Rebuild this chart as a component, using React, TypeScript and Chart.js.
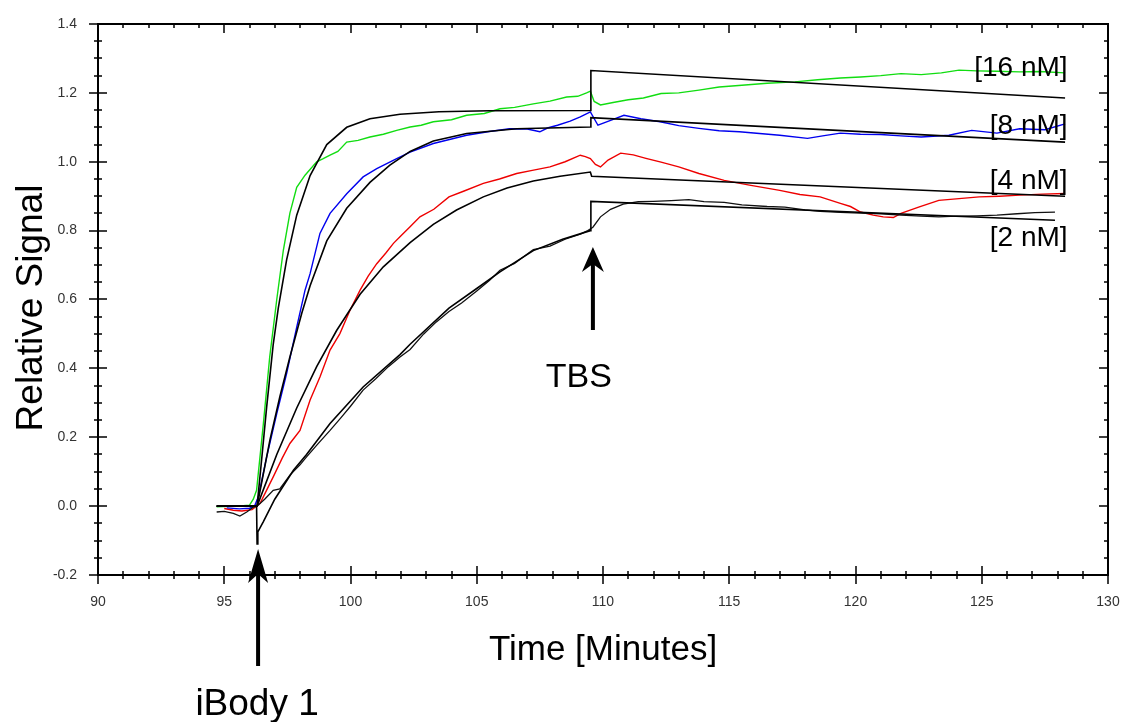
import React, { useEffect, useRef } from "react";
import { Chart, registerables } from "chart.js";

Chart.register(...registerables);

// ---- axis ticks ----
const xTickValues = [90, 95, 100, 105, 110, 115, 120, 125, 130];
const yTickValues = [-0.2, 0, 0.2, 0.4, 0.6, 0.8, 1.0, 1.2, 1.4];

// ---- 16 nM measured (green) ----
const time16 = [94.7, 95.5, 96.0, 96.15, 96.28, 96.55, 96.8, 97.08, 97.34, 97.6, 97.87, 98.2, 98.66, 98.9, 99.19, 99.5, 99.85, 100.3, 100.77, 101.3, 101.83, 102.36, 102.8, 103.28, 104.0, 104.6, 105.3, 105.92, 106.5, 107.24, 107.9, 108.56, 109.0, 109.35, 109.5, 109.65, 109.9, 110.4, 111.0, 111.6, 112.3, 113.0, 113.8, 114.6, 115.5, 116.5, 117.6, 118.5, 119.4, 120.2, 121.0, 121.8, 122.6, 123.4, 124.1, 124.8, 125.6, 126.5, 127.3, 128.3];
const signal16 = [-0.002, 0.0, 0.003, 0.02, 0.046, 0.24, 0.433, 0.6, 0.743, 0.851, 0.926, 0.961, 1.0, 1.008, 1.019, 1.03, 1.057, 1.062, 1.072, 1.08, 1.091, 1.101, 1.106, 1.116, 1.122, 1.135, 1.14, 1.154, 1.158, 1.168, 1.176, 1.188, 1.19, 1.2, 1.205, 1.175, 1.165, 1.172, 1.18, 1.185, 1.198, 1.2, 1.208, 1.217, 1.222, 1.228, 1.232, 1.238, 1.243, 1.246, 1.25, 1.256, 1.253, 1.258, 1.266, 1.264, 1.263, 1.261, 1.262, 1.258];

// ---- 8 nM measured (blue) ----
const time8 = [95.1, 95.6, 96.0, 96.2, 96.35, 96.68, 97.08, 97.47, 97.87, 98.2, 98.4, 98.79, 99.19, 99.85, 100.5, 101.04, 101.83, 102.36, 103.28, 104.0, 104.6, 105.5, 106.3, 107.0, 107.5, 107.8, 108.2, 108.7, 109.1, 109.5, 109.8, 110.3, 110.83, 111.5, 112.26, 113.0, 113.8, 114.6, 115.4, 116.2, 117.0, 118.1, 118.7, 119.4, 120.2, 121.0, 121.8, 122.6, 123.7, 124.6, 125.6, 126.5, 127.5, 128.3];
const signal8 = [-0.005, -0.008, -0.006, 0.0, 0.027, 0.143, 0.269, 0.385, 0.52, 0.627, 0.675, 0.792, 0.85, 0.907, 0.956, 0.98, 1.009, 1.028, 1.053, 1.066, 1.077, 1.088, 1.096, 1.095, 1.087, 1.098, 1.106, 1.118, 1.13, 1.145, 1.106, 1.12, 1.135, 1.125, 1.116, 1.105, 1.097, 1.09, 1.087, 1.082, 1.077, 1.068, 1.075, 1.083, 1.08, 1.079, 1.075, 1.072, 1.077, 1.091, 1.083, 1.096, 1.093, 1.11];

// ---- 4 nM measured (red) ----
const time4 = [95.0, 95.36, 95.7, 96.1, 96.42, 96.94, 97.3, 97.6, 98.0, 98.4, 98.79, 99.19, 99.58, 99.98, 100.38, 100.7, 101.04, 101.4, 101.7, 101.96, 102.36, 102.75, 103.3, 103.9, 104.5, 105.26, 105.9, 106.58, 107.2, 107.9, 108.5, 109.1, 109.3, 109.5, 109.7, 109.9, 110.2, 110.7, 111.2, 111.7, 112.3, 113.0, 113.8, 114.8, 115.8, 117.0, 117.8, 118.6, 119.4, 119.8, 120.2, 120.7, 121.1, 121.5, 121.8, 122.5, 123.3, 124.1, 124.9, 125.7, 126.5, 127.4, 128.3];
const signal4 = [-0.007, -0.012, -0.014, -0.01, 0.008, 0.085, 0.14, 0.182, 0.22, 0.308, 0.375, 0.453, 0.501, 0.569, 0.627, 0.668, 0.704, 0.735, 0.763, 0.782, 0.811, 0.84, 0.862, 0.898, 0.915, 0.937, 0.95, 0.966, 0.975, 0.985, 1.0, 1.019, 1.015, 1.009, 0.992, 0.985, 1.005, 1.025, 1.02, 1.01, 0.999, 0.985, 0.966, 0.946, 0.932, 0.917, 0.905, 0.898, 0.879, 0.87, 0.854, 0.845, 0.84, 0.838, 0.85, 0.868, 0.888, 0.893, 0.898, 0.9, 0.903, 0.906, 0.908];

// ---- 2 nM measured (black) ----
const time2 = [94.7, 95.0, 95.36, 95.62, 95.89, 96.15, 96.3, 96.6, 96.94, 97.2, 97.6, 98.0, 98.26, 98.7, 99.19, 99.6, 100.0, 100.5, 101.0, 101.5, 101.96, 102.36, 102.9, 103.4, 103.9, 104.4, 105.0, 105.5, 105.92, 106.5, 107.24, 107.9, 108.5, 109.1, 109.4, 109.6, 109.9, 110.3, 110.8, 111.4, 112.0, 112.7, 113.4, 114.0, 114.8, 115.5, 116.5, 117.2, 118.0, 118.6, 119.4, 120.2, 121.0, 121.8, 122.6, 123.3, 124.0, 124.8, 125.6, 126.4, 127.1, 127.9];
const signal2 = [-0.017, -0.015, -0.021, -0.029, -0.017, -0.003, 0.0, 0.02, 0.046, 0.05, 0.09, 0.12, 0.143, 0.18, 0.22, 0.255, 0.29, 0.337, 0.37, 0.405, 0.433, 0.455, 0.5, 0.535, 0.565, 0.59, 0.625, 0.655, 0.685, 0.705, 0.745, 0.755, 0.775, 0.79, 0.8, 0.81, 0.84, 0.862, 0.877, 0.884, 0.885, 0.887, 0.89, 0.884, 0.882, 0.875, 0.87, 0.868, 0.86, 0.856, 0.853, 0.851, 0.849, 0.845, 0.842, 0.84, 0.842, 0.843, 0.845, 0.849, 0.852, 0.854];

// ---- fitted curves (black) ----
const fitTime16 = [94.7, 96.3, 96.5, 96.68, 96.94, 97.14, 97.47, 97.87, 98.4, 99.06, 99.85, 100.77, 101.96, 103.5, 105.5, 109.5, 109.52, 128.3];
const fitSignal16 = [0, 0, 0.15, 0.288, 0.47, 0.575, 0.715, 0.845, 0.96, 1.05, 1.1, 1.125, 1.138, 1.145, 1.148, 1.149, 1.265, 1.185];

const fitTime8 = [94.7, 96.3, 96.81, 97.2, 97.6, 98.07, 98.4, 99.06, 99.85, 100.77, 101.56, 102.36, 103.28, 104.6, 106.58, 109.5, 109.52, 128.3];
const fitSignal8 = [0, 0, 0.192, 0.317, 0.433, 0.56, 0.64, 0.77, 0.865, 0.94, 0.99, 1.03, 1.06, 1.082, 1.096, 1.101, 1.128, 1.057];

const fitTime4 = [94.7, 96.3, 97.08, 97.87, 98.66, 99.45, 100.38, 101.3, 102.36, 103.28, 104.2, 105.26, 106.2, 107.24, 108.3, 109.5, 109.55, 128.3];
const fitSignal4 = [0, 0, 0.15, 0.285, 0.405, 0.51, 0.615, 0.695, 0.765, 0.818, 0.86, 0.898, 0.924, 0.944, 0.958, 0.97, 0.958, 0.9];

const fitTime2 = [94.7, 96.28, 96.3, 96.33, 96.55, 97.0, 97.74, 98.26, 99.19, 100.5, 101.96, 102.36, 103.9, 105.0, 105.92, 107.24, 108.4, 109.5, 109.52, 127.9];
const fitSignal2 = [0, 0, -0.11, -0.075, -0.045, 0.02, 0.104, 0.15, 0.24, 0.346, 0.44, 0.47, 0.575, 0.632, 0.68, 0.742, 0.775, 0.8, 0.885, 0.83];

// ---- annotations ----
const concLabels = ["[16 nM]", "[8 nM]", "[4 nM]", "[2 nM]"];
const concLabelSignal = [1.271, 1.103, 0.943, 0.778];
const concLabelTime = 128.4;
const eventTimes = [96.34, 109.6];
const eventLabels = ["iBody 1", "TBS"];

const FONT = '"Liberation Sans", Arial, Helvetica, sans-serif';

function pts(t: number[], v: number[]) {
  return t.map((x, i) => ({ x, y: v[i] }));
}

const annotPlugin = {
  id: "annot",
  afterDraw(chart: any) {
    const { ctx, chartArea } = chart;
    const { left, right, top, bottom } = chartArea;
    const xs = chart.scales.x;
    const ys = chart.scales.y;
    ctx.save();
    // ticks
    ctx.strokeStyle = "#000";
    ctx.lineWidth = 1.5;
    ctx.beginPath();
    for (let v = 90; v <= 130; v++) {
      const px = Math.round(xs.getPixelForValue(v));
      const L = v % 5 === 0 ? 9 : 4;
      ctx.moveTo(px, bottom - L);
      ctx.lineTo(px, bottom + L);
      ctx.moveTo(px, top);
      ctx.lineTo(px, top + L);
    }
    for (let i = -4; i <= 28; i++) {
      const py = Math.round(ys.getPixelForValue(i * 0.05));
      const L = i % 4 === 0 ? 9 : 4;
      ctx.moveTo(left - L, py);
      ctx.lineTo(left + L, py);
      ctx.moveTo(right - L, py);
      ctx.lineTo(right, py);
    }
    ctx.stroke();
    ctx.lineWidth = 2;
    ctx.strokeRect(left, top, right - left, bottom - top);

    // concentration labels
    ctx.fillStyle = "#000";
    ctx.font = `28px ${FONT}`;
    ctx.textAlign = "right";
    ctx.textBaseline = "middle";
    concLabels.forEach((s, i) => {
      ctx.fillText(s, xs.getPixelForValue(concLabelTime), ys.getPixelForValue(concLabelSignal[i]));
    });

    // arrows
    const arrowGeo = [
      { tip: 549, base: 583, notch: 574, tail: 666, hw: 10, label: 715, size: 37 },
      { tip: 247, base: 272, notch: 264, tail: 330, hw: 11, label: 387, size: 34 },
    ];
    eventTimes.forEach((t, i) => {
      const g = arrowGeo[i];
      const px = xs.getPixelForValue(t);
      ctx.lineWidth = 4;
      ctx.beginPath();
      ctx.moveTo(px, g.notch);
      ctx.lineTo(px, g.tail);
      ctx.stroke();
      ctx.beginPath();
      ctx.moveTo(px, g.tip);
      ctx.lineTo(px - g.hw, g.base);
      ctx.lineTo(px, g.notch);
      ctx.lineTo(px + g.hw, g.base);
      ctx.closePath();
      ctx.fill();
      ctx.font = `${g.size}px ${FONT}`;
      ctx.textAlign = "center";
      ctx.textBaseline = "alphabetic";
      ctx.fillText(eventLabels[i], px - (i === 0 ? 1 : 14), g.label);
    });

    // axis titles
    ctx.font = `35px ${FONT}`;
    ctx.textAlign = "center";
    ctx.textBaseline = "alphabetic";
    ctx.fillText("Time [Minutes]", (left + right) / 2, 660);
    ctx.save();
    ctx.translate(42, 308);
    ctx.rotate(-Math.PI / 2);
    ctx.font = `37px ${FONT}`;
    ctx.fillText("Relative Signal", 0, 0);
    ctx.restore();
    ctx.restore();
  },
};

export default function App() {
  const ref = useRef<HTMLCanvasElement | null>(null);
  useEffect(() => {
    if (!ref.current) return;
    const line = (data: any, color: string, w: number) => ({
      data,
      borderColor: color,
      backgroundColor: color,
      borderWidth: w,
      pointRadius: 0,
      fill: false,
      tension: 0,
    });
    const chart = new Chart(ref.current, {
      type: "line",
      data: {
        datasets: [
          line(pts(fitTime16, fitSignal16), "#000", 1.6),
          line(pts(fitTime8, fitSignal8), "#000", 1.6),
          line(pts(fitTime4, fitSignal4), "#000", 1.6),
          line(pts(fitTime2, fitSignal2), "#000", 1.6),
          line(pts(time2, signal2), "#111", 1.3),
          line(pts(time16, signal16), "#11dd11", 1.4),
          line(pts(time8, signal8), "#0000ee", 1.4),
          line(pts(time4, signal4), "#ee0000", 1.4),
        ] as any,
      },
      options: {
        responsive: false,
        animation: false,
        devicePixelRatio: 1,
        layout: { padding: { top: 24, right: 16, left: 0, bottom: 0 } },
        plugins: { legend: { display: false }, tooltip: { enabled: false } },
        scales: {
          x: {
            type: "linear",
            min: 90,
            max: 130,
            afterBuildTicks: (a: any) => {
              a.ticks = xTickValues.map((v) => ({ value: v }));
            },
            afterFit: (s: any) => {
              s.height = 147;
              s.paddingLeft = 0;
              s.paddingRight = 0;
            },
            grid: { display: false, drawTicks: false },
            border: { display: false },
            ticks: {
              padding: 19,
              color: "#333",
              font: { family: FONT, size: 14 },
              maxRotation: 0,
              callback: (v: any) => String(v),
            },
          },
          y: {
            type: "linear",
            min: -0.2,
            max: 1.4,
            afterBuildTicks: (a: any) => {
              a.ticks = yTickValues.map((v) => ({ value: v }));
            },
            afterFit: (s: any) => {
              s.width = 98;
              s.paddingTop = 0;
              s.paddingBottom = 0;
            },
            grid: { display: false, drawTicks: false },
            border: { display: false },
            ticks: {
              padding: 21,
              color: "#333",
              font: { family: FONT, size: 14 },
              callback: (v: any) => Number(v).toFixed(1),
            },
          },
        },
      } as any,
      plugins: [annotPlugin],
    });
    return () => chart.destroy();
  }, []);
  return (
    <div style={{ position: "absolute", left: 0, top: 0, width: 1124, height: 722, background: "#fff" }}>
      <canvas ref={ref} width={1124} height={722} style={{ display: "block" }} />
    </div>
  );
}
